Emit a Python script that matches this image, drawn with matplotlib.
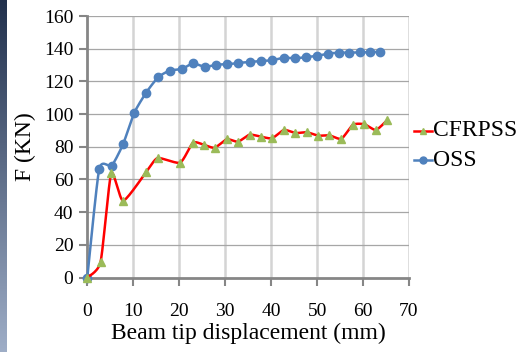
import numpy as np
import matplotlib
matplotlib.use('Agg')
from matplotlib import pyplot as plt

# beam tip displacement (mm) and load (kN)
oss_disp = [0, 2.6, 5.3, 7.8, 10.2, 12.8, 15.4, 17.9, 20.6, 23.0, 25.6, 28.0,
            30.5, 32.9, 35.3, 37.8, 40.2, 42.8, 45.2, 47.6, 50.0, 52.4, 54.8,
            57.0, 59.3, 61.6, 63.8]
oss_load = [0, 66.4, 68.4, 81.7, 100.7, 113.1, 122.5, 126.6, 127.6, 131.1,
            128.8, 130.2, 130.5, 131.3, 131.9, 132.5, 132.9, 134.5, 134.1,
            134.9, 135.6, 137.0, 137.6, 137.6, 137.8, 137.8, 138.2]

cfrp_disp = [0, 2.9, 5.2, 7.8, 12.8, 15.3, 20.2, 23.0, 25.3, 27.7, 30.4, 32.8,
             35.3, 37.8, 40.2, 42.8, 45.3, 47.8, 50.2, 52.7, 55.3, 57.8, 60.3,
             62.8, 65.3]
cfrp_load = [0, 9.7, 63.7, 47.0, 64.4, 73.1, 70.3, 82.5, 81.3, 79.4, 84.6,
             83.1, 87.4, 86.2, 85.2, 90.3, 88.4, 88.9, 86.8, 87.0, 84.9, 93.5,
             93.8, 90.3, 96.4]

x_ticks = [0, 10, 20, 30, 40, 50, 60, 70]
y_ticks = [0, 20, 40, 60, 80, 100, 120, 140, 160]

BLUE = '#4f81bd'
RED = '#ff0000'
GREEN = '#9bbb59'


def smooth(xs, ys, n=16, tension=0.6):
    # cubic Hermite curve through the points, like a spreadsheet "smoothed line"
    p = np.column_stack([xs, ys]).astype(float)
    pad = np.vstack([p[0], p, p[-1]])
    tang = tension * 0.5 * (pad[2:] - pad[:-2])
    t = np.linspace(0, 1, n, endpoint=False)[:, None]
    h00 = 2 * t ** 3 - 3 * t ** 2 + 1
    h10 = t ** 3 - 2 * t ** 2 + t
    h01 = -2 * t ** 3 + 3 * t ** 2
    h11 = t ** 3 - t ** 2
    out = []
    for i in range(len(p) - 1):
        out.append(h00 * p[i] + h10 * tang[i] + h01 * p[i + 1] + h11 * tang[i + 1])
    out.append(p[-1][None, :])
    out = np.vstack(out)
    return out[:, 0], out[:, 1]


plt.rcParams['font.family'] = ['Liberation Serif', 'DejaVu Serif']

fig = plt.figure(figsize=(5.22, 3.52), dpi=100)
fig.patch.set_facecolor('white')

# dark slide edge on the left
strip = fig.add_axes([0, 0, 7 / 522, 1])
grad = np.linspace(0, 1, 256)[:, None]
top = np.array([0.13, 0.19, 0.30])
bot = np.array([0.62, 0.68, 0.78])
img = top[None, None, :] * (1 - grad[..., None]) + bot[None, None, :] * grad[..., None]
strip.imshow(img, aspect='auto', extent=[0, 1, 0, 1])
strip.axis('off')

ax = fig.add_axes([0.1672, 0.2114, 0.6163, 0.7431])
ax.set_xlim(0, 70)
ax.set_ylim(0, 160)
ax.set_xticks(x_ticks)
ax.set_yticks(y_ticks)
ax.tick_params(labelsize=14, colors='#868686', labelcolor='black',
               length=6, width=1.5, direction='out', pad=4)
ax.tick_params(axis='x', pad=12)

for x in x_ticks[1:]:
    ax.axvline(x, color='#d4d4d4', lw=1.8, zorder=0)
for y in y_ticks[1:]:
    ax.axhline(y, color='#a6a6a6', lw=0.9, zorder=0)

for s in ['top', 'right']:
    ax.spines[s].set_visible(False)
for s in ['left', 'bottom']:
    ax.spines[s].set_color('#868686')
    ax.spines[s].set_linewidth(2)

sx, sy = smooth(oss_disp, oss_load)
ax.plot(sx, sy, color=BLUE, lw=1.8, zorder=3, clip_on=False)
ax.plot(oss_disp, oss_load, 'o', color=BLUE, ms=6, zorder=4, clip_on=False)

sx, sy = smooth(cfrp_disp, cfrp_load)
ax.plot(sx, sy, color=RED, lw=1.8, zorder=5, clip_on=False)
ax.plot(cfrp_disp, cfrp_load, '^', color=GREEN, ms=6, zorder=6, clip_on=False)

ax.set_xlabel('Beam tip displacement (mm)', fontsize=17, labelpad=2)
ax.set_ylabel('F (KN)', fontsize=17, labelpad=6)

# legend entries: line with marker, then name
lx0, lx1 = 414 / 522, 432 / 522
for ypx, col, mk, mcol, name in [(131, RED, '^', GREEN, 'CFRPSS'),
                                  (160, BLUE, 'o', BLUE, 'OSS')]:
    yf = 1 - ypx / 352
    fig.add_artist(plt.Line2D([lx0, lx1], [yf, yf], color=col, lw=1.8,
                              transform=fig.transFigure))
    fig.add_artist(plt.Line2D([(lx0 + lx1) / 2], [yf], marker=mk, color=mcol,
                              ms=5, transform=fig.transFigure))
    fig.text(433 / 522, yf, name, fontsize=17, va='center', ha='left')

fig.savefig('out.png', dpi=100, facecolor='white')
